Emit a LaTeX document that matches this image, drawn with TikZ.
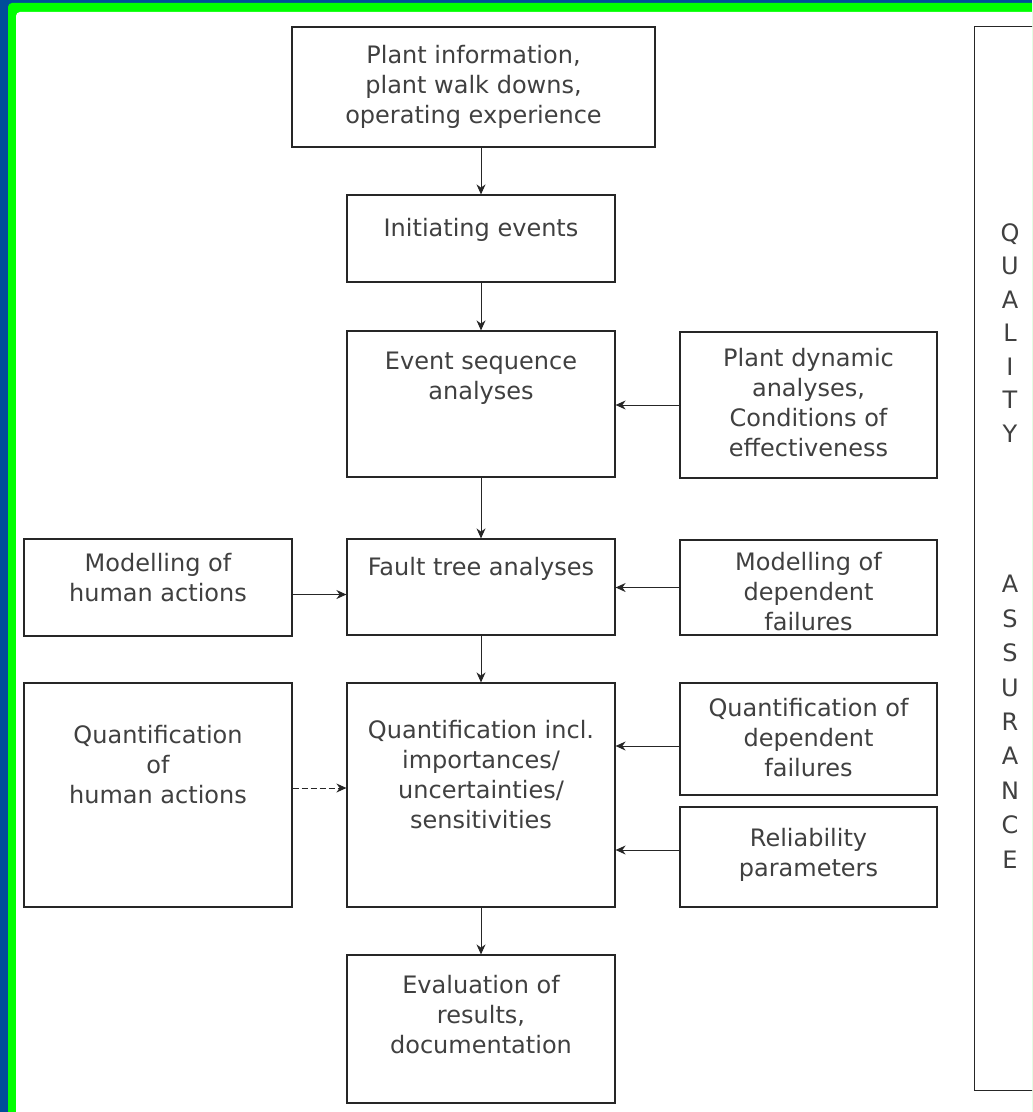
\documentclass[tikz,border=0pt]{standalone}
\usepackage{fontspec}
\setmainfont{DejaVu Sans}
\usetikzlibrary{arrows.meta}
\definecolor{framebl}{HTML}{004C99}
\definecolor{framegr}{HTML}{00FF00}
\begin{document}
\begin{tikzpicture}[x=0.5pt,y=-0.5pt,
  box/.style={draw=black!85, line width=0.6pt, fill=white, inner sep=0pt},
  txt/.style={align=center, font=\fontsize{12}{15}\selectfont, text=black!75, inner sep=0pt},
  qtxt/.style={align=center, text=black!75, inner sep=0pt, anchor=north},
  arr/.style={draw=black!85, line width=0.5pt, -{Stealth[length=5pt,width=4.5pt]}},
  dashedarr/.style={arr, dash pattern=on 3pt off 1.5pt},
]
\useasboundingbox (0,0) rectangle (1032,1112);
\clip (0,0) rectangle (1032,1112);

% frame
\fill[framebl] (0,0) rectangle (1032,1112);
\fill[framegr, rounded corners=2pt] (8,3) rectangle (1100,1200);
\fill[white, rounded corners=2pt] (16,12) rectangle (1100,1200);

% main column
\node[box, minimum width=181.5pt, minimum height=60pt] (pi) at (473.5,87) {};
\node[txt] (piT) at (pi.center) {Plant information,\\plant walk downs,\\operating experience};

\node[box, minimum width=134pt, minimum height=43.5pt] (ie) at (481,238.5) {};
\node[txt, anchor=north, yshift=-11.5pt] (ieT) at (ie.north) {Initiating events};

\node[box, minimum width=134pt, minimum height=73pt] (es) at (481,404) {};
\node[txt, anchor=north, yshift=-10.5pt] (esT) at (es.north) {Event sequence\\analyses};

\node[box, minimum width=134pt, minimum height=48pt] (ft) at (481,587) {};
\node[txt, anchor=north, yshift=-9pt] (ftT) at (ft.north) {Fault tree analyses};

\node[box, minimum width=134pt, minimum height=112pt] (qi) at (481,795) {};
\node[txt, anchor=north, yshift=-18.5pt] (qiT) at (qi.north) {Quantification incl.\\importances/\\uncertainties/\\sensitivities};

\node[box, minimum width=134pt, minimum height=74pt] (ev) at (481,1029) {};
\node[txt, anchor=north, yshift=-10pt] (evT) at (ev.north) {Evaluation of\\results,\\documentation};

% right column
\node[box, minimum width=128.5pt, minimum height=73pt] (pd) at (808.5,405) {};
\node[txt, anchor=north, yshift=-8pt] (pdT) at (pd.north) {Plant dynamic\\analyses,\\Conditions of\\effectiveness};

\node[box, minimum width=128.5pt, minimum height=47.5pt] (md) at (808.5,587.5) {};
\node[txt, anchor=north, yshift=-6pt] (mdT) at (md.north) {Modelling of\\dependent\\failures};

\node[box, minimum width=128.5pt, minimum height=56pt] (qd) at (808.5,739) {};
\node[txt, anchor=north, yshift=-7.5pt] (qdT) at (qd.north) {Quantification of\\dependent\\failures};

\node[box, minimum width=128.5pt, minimum height=50pt] (rp) at (808.5,857) {};
\node[txt, anchor=north, yshift=-10.5pt] (rpT) at (rp.north) {Reliability\\parameters};

% left column
\node[box, minimum width=134pt, minimum height=48.5pt] (mh) at (158,587.5) {};
\node[txt, anchor=north, yshift=-7pt] (mhT) at (mh.north) {Modelling of\\human actions};

\node[box, minimum width=134pt, minimum height=112pt] (qh) at (158,795) {};
\node[txt, anchor=north, yshift=-21pt] (qhT) at (qh.north) {Quantification\\of\\human actions};

% quality assurance band, open towards the right edge
\node[inner sep=0pt, minimum width=150pt, minimum height=531.5pt] (qa) at (1125,558.5) {};
\draw[black!85, line width=0.6pt] (qa.north east) -- (qa.north west) -- (qa.south west) -- (qa.south east);
\node[qtxt, font=\fontsize{12}{16.75}\selectfont] (qa1) at (1010,223) {Q\\U\\A\\L\\I\\T\\Y};
\node[qtxt, font=\fontsize{12}{17.2}\selectfont] (qa2) at (1010,575) {A\\S\\S\\U\\R\\A\\N\\C\\E};

% vertical flow
\draw[arr] (pi.south -| ie.north) -- (ie.north);
\draw[arr] (ie.south) -- (es.north);
\draw[arr] (es.south) -- (ft.north);
\draw[arr] (ft.south) -- (qi.north);
\draw[arr] (qi.south) -- (ev.north);

% side inputs
\draw[arr] (pd.west) -- (pd.west -| es.east);
\coordinate (mhA) at ([yshift=-3.5pt]mh.east);
\draw[arr] (mhA) -- (mhA -| ft.west);
\draw[arr] (md.west) -- (md.west -| ft.east);
\coordinate (qdA) at ([yshift=-3.5pt]qd.west);
\draw[arr] (qdA) -- (qdA -| qi.east);
\coordinate (rpA) at ([yshift=3.5pt]rp.west);
\draw[arr] (rpA) -- (rpA -| qi.east);
\coordinate (qhA) at ([yshift=3.5pt]qh.east);
\draw[dashedarr] (qhA) -- (qhA -| qi.west);
\end{tikzpicture}
\end{document}
